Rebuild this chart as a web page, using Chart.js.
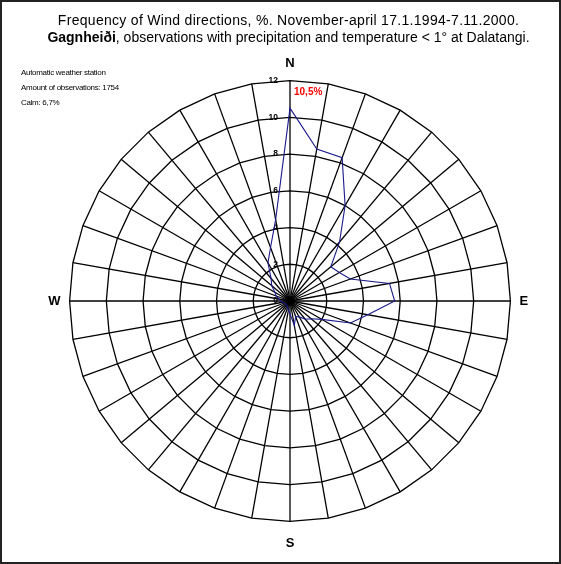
<!DOCTYPE html>
<html><head><meta charset="utf-8">
<script src="https://cdn.jsdelivr.net/npm/chart.js@4.4.1/dist/chart.umd.min.js"></script>
<style>
html,body{margin:0;padding:0;background:#fff;}
#wrap{position:relative;width:561px;height:564px;overflow:hidden;}
#frame{position:absolute;left:0;top:0;width:557px;height:560px;border:2px solid #222;pointer-events:none;}
canvas{position:absolute;left:0;top:0;}
.t{position:absolute;left:8px;width:561px;text-align:center;font-family:"Liberation Sans",Arial,sans-serif;font-size:14px;line-height:16px;color:#000;white-space:nowrap;}
.n{position:absolute;left:21px;font-family:"Liberation Sans",Arial,sans-serif;font-size:8px;line-height:10px;letter-spacing:-0.3px;color:#000;white-space:nowrap;}
</style></head>
<body>
<div id="wrap">
<canvas id="c" width="561" height="564"></canvas>
<div class="t" style="top:12px;letter-spacing:0.3px">Frequency of Wind directions, %. November-april 17.1.1994-7.11.2000.</div>
<div class="t" style="top:29px"><b>Gagnheiði</b>, observations with precipitation and temperature &lt; 1° at Dalatangi.</div>
<div class="n" style="top:68px">Automatic weather station</div>
<div class="n" style="top:83px">Amount of observations: 1754</div>
<div class="n" style="top:98px">Calm: 6,7%</div>
<div id="frame"></div>
</div>
<script>
// Wind direction categories (degrees, clockwise from north)
const categories = [0,10,20,30,40,50,60,70,80,90,100,110,120,130,140,150,160,170,
                    180,190,200,210,220,230,240,250,260,270,280,290,300,310,320,330,340,350];
const compassNames = {0:'N', 90:'E', 180:'S', 270:'W'};
// Frequency (%) per direction
const frequency = [10.5, 8.4, 8.3, 6.0, 4.2, 2.9, 3.1, 3.5, 5.5, 5.7, 4.3, 3.5,
                   2.0, 1.5, 1.3, 1.0, 0.9, 1.35, 0.7, 0.5, 0.4, 0.3, 0.3, 0.3,
                   0.3, 0.3, 0.4, 0.53, 0.6, 0.8, 0.95, 1.3, 1.6, 2.4, 3.1, 4.5];
// Radial tick labels
const tickValues = [0, 2, 4, 6, 8, 10, 12];

const labels = categories.map(d => compassNames[d] || '');
const maxLabel = String(Math.max(...frequency)).replace('.', ',') + '%';

const tickTextPlugin = {
  id: 'tickText',
  beforeDatasetsDraw(chart) {
    const s = chart.scales.r;
    const ctx = chart.ctx;
    ctx.save();
    ctx.font = 'bold 8.5px "Liberation Sans", Arial, sans-serif';
    ctx.fillStyle = '#000';
    ctx.textAlign = 'right';
    ctx.textBaseline = 'middle';
    s.ticks.forEach(t => {
      const d = s.getDistanceFromCenterForValue(t.value);
      ctx.fillText(String(t.value), s.xCenter - 12, s.yCenter - d);
    });
    ctx.restore();
  },
  afterDatasetsDraw(chart) {
    const s = chart.scales.r;
    const ctx = chart.ctx;
    ctx.save();
    ctx.font = 'bold 10px "Liberation Sans", Arial, sans-serif';
    ctx.fillStyle = '#ff0000';
    ctx.textAlign = 'left';
    ctx.textBaseline = 'middle';
    ctx.fillText(maxLabel, s.xCenter + 4, s.yCenter - s.getDistanceFromCenterForValue(11.35));
    ctx.restore();
  }
};

new Chart(document.getElementById('c'), {
  type: 'radar',
  data: {
    labels: labels,
    datasets: [{
      data: frequency,
      borderColor: '#1a1a8a',
      borderWidth: 1.1,
      backgroundColor: 'rgba(0,0,0,0)',
      fill: false,
      pointRadius: 0,
      tension: 0
    }]
  },
  options: {
    responsive: false,
    animation: false,
    devicePixelRatio: 1,
    layout: { padding: { left: 39, right: 22, top: 54, bottom: 10 } },
    plugins: { legend: { display: false }, title: { display: false }, tooltip: { enabled: false } },
    scales: {
      r: {
        min: tickValues[0],
        max: tickValues[tickValues.length - 1],
        ticks: { stepSize: tickValues[1] - tickValues[0], display: false },
        grid: { color: '#000', lineWidth: 1.3 },
        angleLines: { color: '#000', lineWidth: 1.3 },
        pointLabels: {
          display: true,
          color: '#000',
          font: { family: '"Liberation Sans", Arial, sans-serif', size: 13, weight: 'bold' },
          padding: (ctx) => ctx.index === 18 ? 14 : 9
        }
      }
    }
  },
  plugins: [tickTextPlugin]
});
</script>
</body></html>
